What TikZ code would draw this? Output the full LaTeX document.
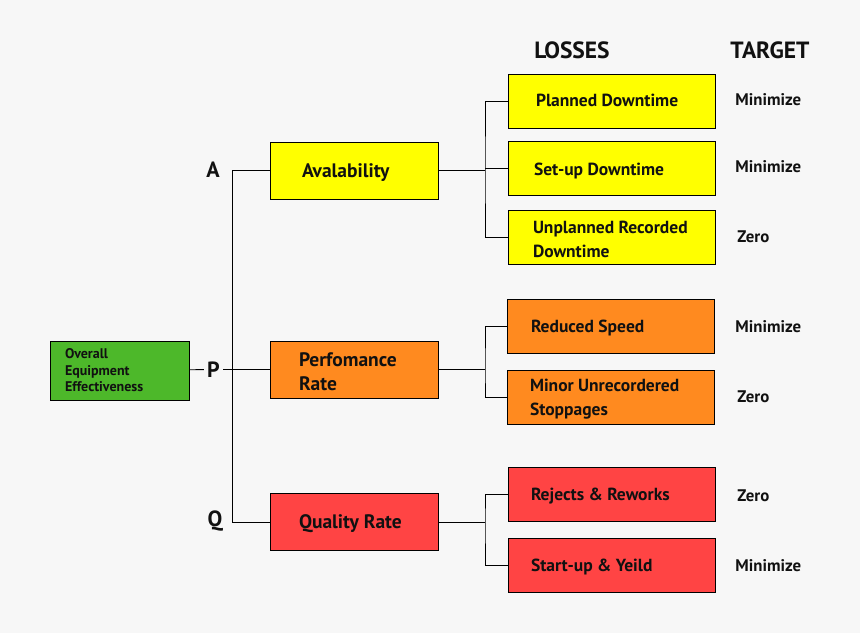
\documentclass[tikz,border=0pt]{standalone}
\usepackage{fontspec}
\setmainfont{PT Sans}
\usetikzlibrary{positioning}
\definecolor{bgcol}{HTML}{F7F7F7}
\definecolor{oeegreen}{HTML}{4DB82A}
\definecolor{availyellow}{HTML}{FFFF00}
\definecolor{perforange}{HTML}{FF8A1F}
\definecolor{qualred}{HTML}{FF4444}
\definecolor{inkcol}{HTML}{111111}

\tikzset{
  oeebox/.style={draw, rectangle, fill=oeegreen, minimum width=139pt, minimum height=59pt, inner sep=0pt},
  midbox/.style={draw, rectangle, minimum width=168pt, minimum height=57pt, inner sep=0pt},
  lossbox/.style={draw, rectangle, minimum width=207pt, minimum height=54pt, inner sep=0pt},
  boxtext/.style={anchor=west, inner sep=0pt, yshift=-2pt, align=left, text=inkcol, font=\bfseries\fontsize{17.5}{24}\selectfont},
  bigtext/.style={boxtext, font=\bfseries\fontsize{19.5}{24}\selectfont},
  smalltext/.style={boxtext, yshift=2pt, font=\bfseries\fontsize{14}{16.5}\selectfont},
  apq/.style={inner sep=3pt, text=inkcol, font=\bfseries\fontsize{22}{22}\selectfont},
  header/.style={text=inkcol, font=\bfseries\fontsize{23.5}{23.5}\selectfont},
  target/.style={anchor=west, inner sep=0pt, text=inkcol, font=\bfseries\fontsize{16.8}{16.8}\selectfont},
}

\begin{document}
\begin{tikzpicture}[x=1pt, y=-1pt, line width=0.9pt]
    \fill[bgcol] (0,0) rectangle (860,633);

    % headers
    \node (losses) [header] at (572,50) {LOSSES};
    \node (target) [header] at (770,50) {TARGET};

    % root and the three factors
    \node (oee) [oeebox, label={[smalltext, label distance=-15pt]west:Overall\\Equipment\\Effectiveness}] at (119.5,370.5) {};
    \node (avail) [midbox, fill=availyellow, label={[bigtext, label distance=-32pt]west:Avalability}] at (354,170.5) {};
    \node (perf) [midbox, fill=perforange, label={[bigtext, label distance=-29pt]west:Perfomance\\Rate}] at (354,369.5) {};
    \node (qual) [midbox, fill=qualred, label={[bigtext, label distance=-29pt]west:Quality Rate}] at (354,522) {};

    \node (a) [apq] at (213,170) {A};
    \node (p) [apq] at (213.5,369.5) {P};
    \node (q) [apq] at (215,521) {Q};

    % losses
    \node (pd) [lossbox, fill=availyellow, label={[boxtext, yshift=3pt, label distance=-28pt]west:Planned Downtime}] at (611.5,101) {};
    \node (sud) [lossbox, fill=availyellow, label={[boxtext, label distance=-26pt]west:Set-up Downtime}] at (611.5,168.5) {};
    \node (urd) [lossbox, fill=availyellow, label={[boxtext, label distance=-25pt]west:Unplanned Recorded\\Downtime}] at (611.5,237) {};
    \node (rs) [lossbox, fill=perforange, label={[boxtext, label distance=-24pt]west:Reduced Speed}] at (610.5,326) {};
    \node (mus) [lossbox, fill=perforange, label={[boxtext, label distance=-23pt]west:Minor Unrecordered\\Stoppages}] at (610.5,397) {};
    \node (rr) [lossbox, fill=qualred, label={[boxtext, label distance=-23pt]west:Rejects \& Reworks}] at (611.5,494) {};
    \node (syd) [lossbox, fill=qualred, label={[boxtext, label distance=-23pt]west:Start-up \& Yeild}] at (611.5,565) {};

    % targets
    \node (tpd) [target] at (735,100) {Minimize};
    \node (tsud) [target] at (735,167) {Minimize};
    \node (turd) [target] at (737,237) {Zero};
    \node (trs) [target] at (735,327) {Minimize};
    \node (tmus) [target] at (737,397) {Zero};
    \node (trr) [target] at (737,496) {Zero};
    \node (tsyd) [target] at (735,566) {Minimize};

    % joints
    \coordinate (trunk) at (232,370);
    \coordinate (ja) at (485,170.5);
    \coordinate (jp) at (485,369.5);
    \coordinate (jq) at (485,522);

    \draw (oee) -- (p);
    \draw (p) -- (perf);
    \draw (avail.west) -- (avail.west -| trunk) -- (qual.west -| trunk) -- (qual.west);

    \draw (avail) -- (ja);
    \draw (pd.west) -| (ja) |- (urd.west);
    \draw (sud.west) -- (sud.west -| ja);
    \draw (perf) -- (jp);
    \draw (rs.west) -| (jp) |- (mus.west);
    \draw (qual) -- (jq);
    \draw (rr.west) -| (jq) |- (syd.west);
\end{tikzpicture}
\end{document}
